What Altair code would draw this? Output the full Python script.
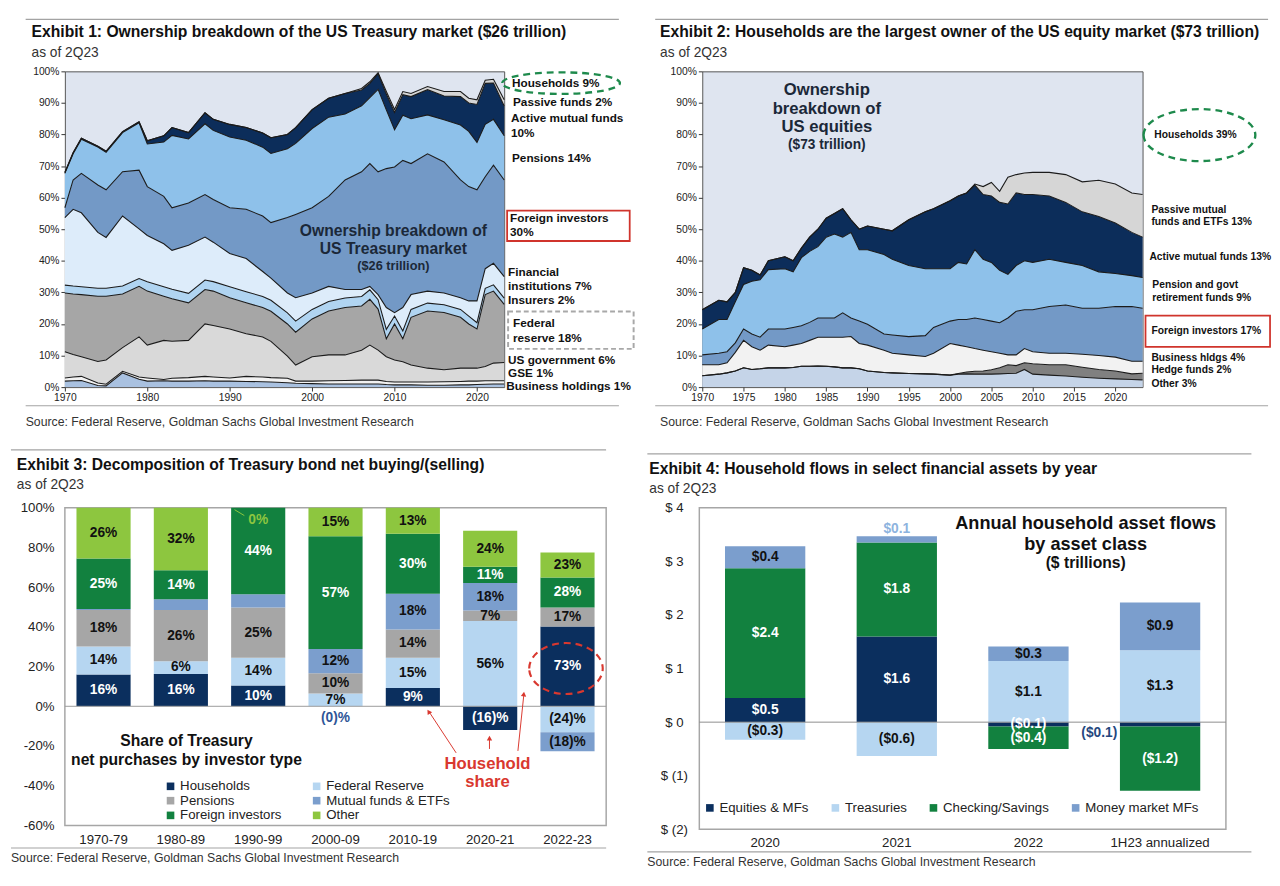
import altair as alt
import pandas as pd

FONT = "Liberation Sans"
INK = "#111111"
SUB = "#333333"
RULE = "#a3a3a3"
ONE = pd.DataFrame({"k": [0]})

# ---------------- Exhibit 1: upper edge of each band (% of Treasuries outstanding) ----------------
E1_YEARS = [1970, 1971, 1972, 1974, 1975, 1977, 1979, 1980, 1982, 1983, 1985, 1987, 1988,
            1990, 1992, 1994, 1995, 1997, 1998, 2000, 2002, 2004, 2006, 2007, 2008, 2009,
            2010, 2011, 2012, 2014, 2016, 2018, 2019, 2020, 2021, 2022, 2023.3]
e1_business = [1.9, 2.0, 2.1, 0.5, 0.4, 4.5, 2.5, 1.9, 2.0, 1.9, 1.9, 2.0, 1.9, 1.9, 1.8, 1.7, 1.6, 1.4, 1.2,
               1.1, 1.0, 1.0, 1.0, 1.0, 1.0, 0.8, 0.7, 0.7, 0.7, 0.6, 0.6, 0.7, 0.7, 0.8, 0.9, 1.0, 1.0]
e1_gse = [2.9, 3.2, 3.4, 1.3, 0.9, 5.0, 3.2, 2.9, 2.4, 2.8, 3.0, 3.4, 3.2, 2.9, 3.4, 3.2, 3.0, 2.8, 1.9,
          1.9, 2.0, 2.1, 2.2, 2.2, 2.2, 1.8, 1.6, 1.6, 1.6, 1.6, 1.7, 1.8, 1.9, 1.9, 2.0, 2.0, 2.0]
e1_usgov = [11.2, 10.3, 9.6, 8.1, 8.6, 12.5, 15.9, 13.3, 14.8, 14.5, 14.8, 20.0, 19.5, 18.4, 16.9, 15.9, 14.5,
            9.8, 7.0, 9.6, 10.2, 10.2, 11.7, 13.3, 11.7, 9.6, 8.6, 8.0, 7.0, 6.0, 5.5, 6.0, 6.0, 6.0, 6.5, 7.6, 7.8]
e1_fed = [29.8, 29.5, 29.3, 28.8, 28.8, 29.5, 31.9, 30.4, 28.8, 28.0, 26.7, 30.9, 30.4, 28.3, 26.7, 25.2, 24.0,
          20.0, 17.4, 21.6, 24.1, 25.2, 25.7, 27.8, 24.7, 15.3, 20.0, 15.3, 22.1, 24.1, 23.6, 22.1, 20.0, 18.4,
          29.3, 30.4, 26.2]
e1_insurers = [32.3, 32.0, 31.8, 31.3, 31.3, 32.0, 34.4, 33.4, 31.8, 31.0, 29.7, 33.9, 33.4, 31.8, 30.2, 28.7,
               27.5, 23.5, 20.9, 24.6, 27.1, 28.2, 28.7, 30.8, 27.7, 18.3, 22.5, 17.8, 24.6, 26.6, 26.1, 24.6,
               22.5, 20.4, 31.3, 32.4, 28.2]
e1_fininst = [53.7, 56.3, 55.2, 49.0, 47.4, 54.2, 50.1, 48.0, 45.4, 43.3, 44.9, 47.5, 45.9, 42.3, 40.7, 36.6,
              34.5, 29.8, 28.3, 29.8, 31.9, 30.9, 30.9, 31.9, 29.3, 25.2, 23.6, 25.2, 29.3, 30.4, 29.8, 28.3,
              27.3, 27.3, 37.5, 39.2, 35.0]
e1_foreign = [56.8, 65.6, 67.7, 64.0, 62.5, 68.2, 68.7, 63.5, 60.4, 56.8, 58.3, 61.0, 59.4, 56.8, 56.3, 54.2,
              52.1, 53.7, 54.7, 56.8, 60.4, 65.6, 68.2, 70.8, 68.2, 69.2, 69.7, 71.8, 70.8, 73.9, 71.3, 65.6,
              63.5, 62.5, 66.6, 70.3, 65.6]
e1_pensions = [67.7, 73.9, 78.5, 76.0, 74.4, 80.6, 83.7, 77.0, 77.6, 79.7, 78.6, 83.4, 81.3, 79.2, 78.2, 76.0,
               74.0, 75.5, 77.2, 81.9, 85.5, 86.5, 89.1, 91.7, 94.3, 87.8, 81.5, 86.1, 85.0, 86.2, 84.7, 83.0,
               81.0, 77.5, 83.2, 84.8, 79.6]
e1_active = [68.0, 74.2, 78.8, 76.3, 74.7, 80.9, 84.0, 78.0, 79.6, 82.2, 80.6, 86.9, 84.8, 83.2, 82.2, 80.5,
             79.0, 80.0, 82.2, 87.9, 91.5, 93.0, 94.1, 96.2, 99.3, 92.8, 87.0, 92.6, 92.0, 94.2, 92.2, 92.0,
             90.0, 89.5, 96.2, 96.3, 89.0]
e1_passive = [68.0, 74.2, 78.8, 76.3, 74.7, 80.9, 84.0, 78.0, 79.6, 82.2, 80.6, 86.9, 84.8, 83.2, 82.2, 80.5,
              79.0, 80.0, 82.2, 87.9, 91.5, 93.0, 94.6, 96.7, 99.6, 93.6, 87.9, 93.6, 93.0, 95.2, 93.6, 93.6,
              91.5, 91.0, 97.2, 97.5, 91.0]
E1_BANDS = ["Business holdings", "GSE", "US government", "Federal reserve", "Insurers",
            "Financial institutions", "Foreign investors", "Pensions", "Active mutual funds", "Passive funds"]
E1_COLORS = ["#a9c1e0", "#f2f2f2", "#d9d9d9", "#a6a6a6", "#b0d4f1", "#ddecfa", "#7399c6", "#8ec1ea",
             "#0c2d5a", "#d6d6d6"]
E1_TOPS = [e1_business, e1_gse, e1_usgov, e1_fed, e1_insurers, e1_fininst, e1_foreign, e1_pensions,
           e1_active, e1_passive]

# ---------------- Exhibit 2: upper edge of each band (% of US equities) ----------------
E2_YEARS = [1970, 1972, 1973, 1974, 1975, 1976, 1977, 1978, 1980, 1981, 1982, 1983, 1984, 1985, 1986, 1987,
            1988, 1989, 1990, 1992, 1993, 1995, 1997, 1998, 2000, 2001, 2002, 2003, 2004, 2005, 2006, 2007,
            2008, 2009, 2010, 2012, 2014, 2016, 2018, 2020, 2022, 2023.3]
e2_other = [3.6, 4.1, 4.5, 5.1, 6.1, 5.6, 5.8, 6.1, 6.1, 6.2, 6.6, 6.6, 6.7, 6.6, 6.4, 6.1, 6.1, 5.8, 5.1, 4.6,
            4.5, 4.3, 4.2, 4.1, 3.8, 4.1, 4.2, 4.1, 4.1, 4.1, 4.2, 4.3, 4.4, 5.6, 4.1, 3.8, 3.5, 3.1, 2.8,
            2.6, 2.4, 2.3]
e2_hedge = [3.6, 4.1, 4.5, 5.1, 6.1, 5.6, 5.8, 6.1, 6.1, 6.2, 6.6, 6.6, 6.7, 6.6, 6.4, 6.1, 6.1, 5.8, 5.1, 4.6,
            4.5, 4.3, 4.2, 4.1, 3.8, 4.3, 4.8, 5.0, 5.1, 5.5, 6.1, 7.1, 6.8, 7.7, 7.4, 7.1, 7.1, 6.3, 5.6,
            5.1, 4.2, 4.4]
e2_business = [7.1, 7.1, 7.7, 11.0, 14.8, 12.8, 11.7, 13.3, 12.8, 13.3, 13.8, 14.8, 15.8, 15.8, 15.8, 15.8,
               16.0, 13.8, 13.3, 11.7, 10.7, 10.2, 9.7, 10.7, 13.8, 13.3, 12.8, 12.2, 11.7, 11.2, 10.7, 10.2,
               10.2, 12.2, 11.2, 10.7, 10.7, 10.4, 10.0, 9.5, 8.2, 8.2]
e2_foreign = [10.2, 10.7, 11.2, 14.0, 18.4, 16.8, 15.8, 18.4, 18.4, 18.9, 19.4, 20.5, 21.9, 21.9, 21.9, 23.5,
              21.9, 20.9, 19.9, 16.8, 16.5, 16.0, 16.3, 18.9, 20.9, 21.4, 21.4, 21.9, 21.4, 20.9, 20.4, 21.9,
              24.0, 24.5, 24.5, 25.5, 26.0, 25.0, 25.0, 25.5, 25.5, 25.0]
e2_pension = [18.4, 21.4, 21.4, 27.0, 32.5, 33.5, 34.0, 37.2, 37.5, 36.5, 41.0, 43.0, 44.5, 47.5, 48.5, 47.5,
              49.0, 43.5, 43.5, 42.0, 40.5, 38.5, 37.5, 37.5, 37.5, 39.5, 39.0, 43.5, 40.5, 39.5, 37.0, 35.7,
              38.5, 40.0, 39.5, 40.5, 39.5, 38.5, 36.5, 36.0, 35.3, 34.7]
e2_active = [24.5, 27.5, 27.0, 30.0, 37.8, 37.0, 35.5, 40.0, 41.3, 40.0, 44.0, 47.5, 50.0, 53.5, 55.0, 56.5,
             53.0, 50.0, 51.0, 50.0, 49.5, 53.0, 55.5, 56.5, 59.0, 60.5, 61.5, 64.0, 61.0, 60.5, 58.5, 58.0,
             61.5, 61.0, 61.0, 60.5, 58.5, 55.5, 54.0, 52.0, 49.0, 47.5]
e2_passive = [24.5, 27.5, 27.0, 30.0, 37.8, 37.0, 35.5, 40.0, 41.3, 40.0, 44.0, 47.5, 50.0, 53.5, 55.0, 56.5,
              53.0, 50.0, 51.0, 50.0, 49.5, 53.0, 55.5, 56.5, 59.0, 60.5, 61.5, 64.3, 63.5, 64.8, 62.0, 66.5,
              67.3, 67.8, 68.0, 68.0, 67.3, 65.0, 65.5, 64.3, 61.5, 61.0]
E2_BANDS = ["Other", "Hedge funds", "Business hldgs", "Foreign investors", "Pension and govt retirement funds",
            "Active mutual funds", "Passive mutual funds and ETFs"]
E2_COLORS = ["#c5d4e8", "#808080", "#f2f2f2", "#7399c6", "#8ec1ea", "#0c2d5a", "#d6d6d6"]
E2_TOPS = [e2_other, e2_hedge, e2_business, e2_foreign, e2_pension, e2_active, e2_passive]

# ---------------- Exhibit 3: bar heights (axis %) and printed shares ----------------
E3_PERIODS = ["1970-79", "1980-89", "1990-99", "2000-09", "2010-19", "2020-21", "2022-23"]
E3_SERIES = ["Households", "Federal Reserve", "Pensions", "Mutual funds & ETFs", "Foreign investors", "Other"]
E3_COLORS = ["#0b2f5e", "#b6d6f1", "#a6a6a6", "#7b9ecd", "#12813f", "#8dc63f"]
E3_TXT = ["white", INK, INK, INK, "white", INK]
E3_LEGEND_ORDER = [0, 2, 4, 1, 3, 5]   # fills the two legend columns row by row
e3_households = [16.0, 16.3, 10.5, 0.0, 9.2, -11.9, 40.2]
e3_fed = [14.1, 6.4, 14.0, 6.5, 15.3, 43.0, -13.1]
e3_pensions = [18.4, 25.8, 25.2, 10.2, 14.2, 5.2, 9.5]
e3_mutual = [0.5, 5.4, 6.7, 12.2, 18.0, 13.9, -9.5]
e3_foreign = [25.4, 14.6, 43.6, 56.7, 30.2, 8.2, 15.2]
e3_other = [25.6, 31.5, 0.0, 14.4, 13.1, 18.1, 12.6]
e3_lab_households = ["16%", "16%", "10%", "(0)%", "9%", "(16)%", "73%"]
e3_lab_fed = ["14%", "6%", "14%", "7%", "15%", "56%", "(24)%"]
e3_lab_pensions = ["18%", "26%", "25%", "10%", "14%", "7%", "17%"]
e3_lab_mutual = ["", "", "", "12%", "18%", "18%", "(18)%"]
e3_lab_foreign = ["25%", "14%", "44%", "57%", "30%", "11%", "28%"]
e3_lab_other = ["26%", "32%", "0%", "15%", "13%", "24%", "23%"]
E3_VALUES = [e3_households, e3_fed, e3_pensions, e3_mutual, e3_foreign, e3_other]
E3_LABELS = [e3_lab_households, e3_lab_fed, e3_lab_pensions, e3_lab_mutual, e3_lab_foreign, e3_lab_other]

# ---------------- Exhibit 4: household flows ($ trillions) ----------------
E4_PERIODS = ["2020", "2021", "2022", "1H23 annualized"]
E4_SERIES = ["Equities & MFs", "Treasuries", "Checking/Savings", "Money market MFs"]
E4_COLORS = ["#0b2f5e", "#b6d6f1", "#12813f", "#7b9ecd"]
E4_TXT = ["white", INK, "white", INK]
e4_equities = [0.45, 1.60, -0.08, -0.08]
e4_treasuries = [-0.33, -0.63, 1.14, 1.34]
e4_checking = [2.42, 1.75, -0.42, -1.20]
e4_mmf = [0.41, 0.12, 0.27, 0.89]
e4_lab_equities = ["$0.5", "$1.6", "($0.1)", "($0.1)"]
e4_lab_treasuries = ["($0.3)", "($0.6)", "$1.1", "$1.3"]
e4_lab_checking = ["$2.4", "$1.8", "($0.4)", "($1.2)"]
e4_lab_mmf = ["$0.4", "$0.1", "$0.3", "$0.9"]
E4_VALUES = [e4_equities, e4_treasuries, e4_checking, e4_mmf]
E4_LABELS = [e4_lab_equities, e4_lab_treasuries, e4_lab_checking, e4_lab_mmf]


# ---------------- helpers ----------------
def T(x, y, s, size=12, weight="normal", color=INK, align="left", baseline="middle"):
    return alt.Chart(ONE).mark_text(text=s, fontSize=size, fontWeight=weight, color=color, align=align,
                                    baseline=baseline, font=FONT).encode(x=alt.value(x), y=alt.value(y))


def R(x1, y1, x2, y2, color=RULE, width=1.2, dash=None):
    kw = dict(color=color, strokeWidth=width)
    if dash:
        kw["strokeDash"] = dash
    return alt.Chart(ONE).mark_rule(**kw).encode(x=alt.value(x1), x2=alt.value(x2),
                                                 y=alt.value(y1), y2=alt.value(y2))


def BOX(x1, y1, x2, y2, color, width=2.0, dash=None):
    kw = dict(fillOpacity=0, stroke=color, strokeWidth=width)
    if dash:
        kw["strokeDash"] = dash
    return alt.Chart(ONE).mark_rect(**kw).encode(x=alt.value(x1), x2=alt.value(x2),
                                                 y=alt.value(y1), y2=alt.value(y2))


def ELL(cx, cy, w, h, color, width=2.4, dash=(7, 5)):
    r = h / w
    k = 0.5523
    p = (f"M-1,0C-1,{-k*r:.4f},{-k:.4f},{-r:.4f},0,{-r:.4f}"
         f"C{k:.4f},{-r:.4f},1,{-k*r:.4f},1,0"
         f"C1,{k*r:.4f},{k:.4f},{r:.4f},0,{r:.4f}"
         f"C{-k:.4f},{r:.4f},-1,{k*r:.4f},-1,0Z")
    return alt.Chart(ONE).mark_point(shape=p, size=w * w, filled=False, color=color, stroke=color,
                                     strokeWidth=width, strokeDash=list(dash), opacity=1).encode(
        x=alt.value(cx), y=alt.value(cy))


def HEAD(x, y, angle, color):
    return alt.Chart(ONE).mark_point(shape="triangle-up", size=30, filled=True, color=color, angle=angle,
                                     opacity=1).encode(x=alt.value(x), y=alt.value(y))


def area_layers(years, names, colors, tops, xvals, field):
    rows = []
    lower = [0.0] * len(years)
    for name, top in zip(names, tops):
        for yr, lo, hi in zip(years, lower, top):
            rows.append({"year": yr, field: name, "lo": lo, "hi": hi})
        lower = top
    df = pd.DataFrame(rows)
    xax = alt.Axis(values=xvals, format="d", title=None, grid=False, domain=False, ticks=True, tickSize=4,
                   tickColor="#333", labelPadding=2, labelFontSize=10.5, labelColor="#222", labelFlush=False,
                   labelFont=FONT)
    yax = alt.Axis(values=list(range(0, 101, 10)), labelExpr="datum.value + '%'", title=None, grid=False,
                   domain=False, ticks=True, tickSize=4, tickColor="#333", labelPadding=2, labelFontSize=10.5,
                   labelColor="#222", labelFont=FONT)
    xs = alt.Scale(domain=[1970, years[-1]], nice=False, zero=False)
    ys = alt.Scale(domain=[0, 100], nice=False)
    area = alt.Chart(df).mark_area(opacity=1).encode(
        x=alt.X("year:Q", scale=xs, axis=xax),
        y=alt.Y("lo:Q", scale=ys, axis=yax, stack=None),
        y2="hi:Q",
        color=alt.Color(f"{field}:N", scale=alt.Scale(domain=names, range=colors), legend=None))
    line = alt.Chart(df).mark_line(color="#1b1b1b", strokeWidth=1.1).encode(
        x=alt.X("year:Q", scale=xs, axis=xax),
        y=alt.Y("hi:Q", scale=ys, axis=yax, stack=None),
        detail=f"{field}:N")
    return [area, line]


def stacked_frame(periods, series, values, labels, colors_txt, field):
    rows = []
    pos = {p: 0.0 for p in periods}
    neg = {p: 0.0 for p in periods}
    for si, (name, vals, labs) in enumerate(zip(series, values, labels)):
        for p, v, lab in zip(periods, vals, labs):
            if v >= 0:
                start = pos[p]
                pos[p] += v
            else:
                start = neg[p]
                neg[p] += v
            rows.append({"period": p, field: name, "value": v, "label": lab, "ord": si,
                         "ypos": start + v / 2, "tcolor": colors_txt[si]})
    return pd.DataFrame(rows)


SOURCE = "Source: Federal Reserve, Goldman Sachs Global Investment Research"

# ---------------- Panel 1 ----------------
W1, H1 = 448, 322
p1_layers = area_layers(E1_YEARS, E1_BANDS, E1_COLORS, E1_TOPS, list(range(1970, 2021, 10)), "band1")
p1_ann = [
    R(-40, -53, 565, -53), R(565, -53, 592, -53, color="white"),
    T(-34, -40, "Exhibit 1: Ownership breakdown of the US Treasury market ($26 trillion)", 16, "bold"),
    T(-34, -19, "as of 2Q23", 14, color=SUB),
    R(-40, 341, 565, 341), T(-40, 358, SOURCE, 12.5, color=SUB),
    T(335, 163, "Ownership breakdown of", 16, "bold", "#1b2838", "center"),
    T(335, 181, "US Treasury market", 16, "bold", "#1b2838", "center"),
    T(335, 199, "($26 trillion)", 13, "bold", "#1b2838", "center"),
    T(456, 12, "Households 9%", 12, "bold"),
    T(457, 31, "Passive funds 2%", 12, "bold"),
    T(455, 48, "Active mutual funds", 12, "bold"),
    T(455, 63, "10%", 12, "bold"),
    T(456, 88, "Pensions 14%", 12, "bold"),
    T(454, 150, "Foreign investors", 12, "bold"),
    T(454, 164, "30%", 12, "bold"),
    T(452, 205, "Financial", 12, "bold"),
    T(452, 219, "institutions 7%", 12, "bold"),
    T(452, 233, "Insurers 2%", 12, "bold"),
    T(457, 257, "Federal", 12, "bold"),
    T(457, 272, "reserve 18%", 12, "bold"),
    T(452, 294, "US government 6%", 12, "bold"),
    T(452, 308, "GSE 1%", 12, "bold"),
    T(450, 321, "Business holdings 1%", 12, "bold"),
    ELL(506, 12, 120, 22, "#1e8a4c"),
    BOX(451, 142, 576, 173, "#d0342c", 1.8),
    BOX(452, 245, 580, 283, "#a8a8a8", 2.0, [5, 3]),
]
p1 = alt.layer(*p1_layers, *p1_ann).properties(
    width=W1, height=H1, view=alt.ViewBackground(fill="#dfe5f0", stroke="#555555", strokeWidth=1))

# ---------------- Panel 2 ----------------
W2, H2 = 449, 322
p2_layers = area_layers(E2_YEARS, E2_BANDS, E2_COLORS, E2_TOPS, list(range(1970, 2021, 5)), "band2")
p2_ann = [
    R(-48, -53, 577, -53),
    T(-43, -40, "Exhibit 2: Households are the largest owner of the US equity market ($73 trillion)", 16,
      "bold"),
    T(-43, -19, "as of 2Q23", 14, color=SUB),
    R(-48, 341, 577, 341), T(-43, 358, SOURCE, 12.5, color=SUB),
    T(127, 19, "Ownership", 17, "bold", "#1b2838", "center"),
    T(127, 38, "breakdown of", 17, "bold", "#1b2838", "center"),
    T(127, 57, "US equities", 17, "bold", "#1b2838", "center"),
    T(127, 75, "($73 trillion)", 14, "bold", "#1b2838", "center"),
    T(461, 65, "Households 39%", 10.5, "bold"),
    T(458, 141, "Passive mutual", 10.5, "bold"),
    T(458, 154, "funds and ETFs 13%", 10.5, "bold"),
    T(456, 189, "Active mutual funds 13%", 10.5, "bold"),
    T(459, 218, "Pension and govt", 10.5, "bold"),
    T(459, 231, "retirement funds 9%", 10.5, "bold"),
    T(458, 265, "Foreign investors 17%", 10.5, "bold"),
    T(458, 292, "Business hldgs 4%", 10.5, "bold"),
    T(458, 305, "Hedge funds 2%", 10.5, "bold"),
    T(458, 319, "Other 3%", 10.5, "bold"),
    ELL(507, 65, 114, 53, "#1e8a4c"),
    BOX(452, 249, 579, 281, "#d0342c", 1.8),
]
p2 = alt.layer(*p2_layers, *p2_ann).properties(
    width=W2, height=H2, view=alt.ViewBackground(fill="#dfe5f0", stroke="#555555", strokeWidth=1))

# ---------------- Panel 3 ----------------
W3, H3 = 552, 324
df3 = stacked_frame(E3_PERIODS, E3_SERIES, E3_VALUES, E3_LABELS, E3_TXT, "series3")
df3.loc[(df3.period == "2000-09") & (df3.series3 == "Households"), ["ypos", "tcolor"]] = [-6.0, "#2e5597"]
df3.loc[(df3.period == "1990-99") & (df3.series3 == "Other"), ["ypos", "tcolor"]] = [94.0, "#8dc63f"]
df3t = df3[df3.label != ""]
legend3_domain = [E3_SERIES[i] for i in E3_LEGEND_ORDER]
legend3_range = [E3_COLORS[i] for i in E3_LEGEND_ORDER]
x3s = alt.Scale(domain=E3_PERIODS, paddingInner=0.3, paddingOuter=0.15)
y3s = alt.Scale(domain=[-60, 100], nice=False)
x3ax = alt.Axis(title=None, labelAngle=0, ticks=False, tickSize=0, domain=False, labelPadding=7,
                labelFontSize=13.5, labelColor="#222", labelFont=FONT)
y3ax = alt.Axis(values=list(range(-60, 101, 20)), labelExpr="datum.value + '%'", title=None, grid=False,
                domain=False, ticks=False, tickSize=0, labelPadding=11, labelFontSize=13.5, labelColor="#222",
                labelFont=FONT)
bars3 = alt.Chart(df3).mark_bar().encode(
    x=alt.X("period:N", sort=E3_PERIODS, scale=x3s, axis=x3ax),
    y=alt.Y("value:Q", stack="zero", scale=y3s, axis=y3ax),
    color=alt.Color("series3:N", scale=alt.Scale(domain=legend3_domain, range=legend3_range),
                    legend=alt.Legend(orient="none", legendX=101, legendY=277, columns=2, title=None,
                                      symbolType="square", symbolSize=60, symbolStrokeWidth=0,
                                      labelFontSize=13.5, labelColor="#222", labelFont=FONT,
                                      columnPadding=28, rowPadding=0, padding=0, labelOffset=3)),
    order=alt.Order("ord:Q", sort="ascending"))
zero3 = alt.Chart(ONE).mark_rule(color="#9a9a9a", strokeWidth=1).encode(y=alt.datum(0))
text3 = alt.Chart(df3t).mark_text(fontSize=14, fontWeight="bold", font=FONT).encode(
    x=alt.X("period:N", sort=E3_PERIODS, scale=x3s, axis=x3ax),
    y=alt.Y("ypos:Q", scale=y3s, axis=y3ax, stack=None),
    text="label:N",
    color=alt.Color("tcolor:N", scale=None))
RED = "#d9382f"
p3_ann = [
    R(-55, -59, 552, -59), R(552, -59, 584, -59, color="white"),
    T(-49, -43, "Exhibit 3: Decomposition of Treasury bond net buying/(selling)", 16, "bold"),
    T(-49, -23, "as of 2Q23", 14, color=SUB),
    R(-55, 347, 552, 347), T(-55, 357, SOURCE, 12.5, color=SUB),
    R(183, 8, 173, 2, color="#8dc63f", width=1),
    T(124, 238, "Share of Treasury", 16, "bold", INK, "center"),
    T(124, 257, "net purchases by investor type", 16, "bold", INK, "center"),
    T(431, 261, "Household", 17, "bold", RED, "center"),
    T(431, 280, "share", 17, "bold", RED, "center"),
    R(399, 250, 372, 209, color=RED, width=1),
    HEAD(371, 208, 327, RED),
    R(433, 246, 433, 236, color=RED, width=1),
    HEAD(433, 235, 0, RED),
    R(462, 248, 468, 191, color=RED, width=1),
    HEAD(468, 190, 6, RED),
    ELL(511, 164, 75, 52, RED, 2.2, (7, 5)),
]
p3 = alt.layer(bars3, zero3, text3, *p3_ann).properties(
    width=W3, height=H3, view=alt.ViewBackground(fill="white", stroke="#a6a6a6", strokeWidth=1.5))

# ---------------- Panel 4 ----------------
W4, H4 = 537, 328
df4 = stacked_frame(E4_PERIODS, E4_SERIES, E4_VALUES, E4_LABELS, E4_TXT, "series4")
df4.loc[(df4.period == "2021") & (df4.series4 == "Money market MFs"), ["ypos", "tcolor"]] = [3.6, "#8db3de"]
side_mask = (df4.period == "1H23 annualized") & (df4.series4 == "Equities & MFs")
df4side = df4[side_mask].copy()
df4side["ypos"] = -0.2
df4t = df4[~side_mask]
x4s = alt.Scale(domain=E4_PERIODS, paddingInner=0.39, paddingOuter=0.195)
y4s = alt.Scale(domain=[-2, 4], nice=False)
x4ax = alt.Axis(title=None, labelAngle=0, ticks=False, tickSize=0, domain=False, labelPadding=7,
                labelFontSize=13.5, labelColor="#222", labelFont=FONT)
y4ax = alt.Axis(values=[-2, -1, 0, 1, 2, 3, 4],
                labelExpr="datum.value < 0 ? '$ (' + abs(datum.value) + ')' : '$ ' + datum.value",
                title=None, grid=False, domain=False, ticks=False, tickSize=0, labelPadding=26,
                labelAlign="center", labelFontSize=13.5, labelColor="#222", labelFont=FONT)
bars4 = alt.Chart(df4).mark_bar().encode(
    x=alt.X("period:N", sort=E4_PERIODS, scale=x4s, axis=x4ax),
    y=alt.Y("value:Q", stack="zero", scale=y4s, axis=y4ax),
    color=alt.Color("series4:N", scale=alt.Scale(domain=E4_SERIES, range=E4_COLORS),
                    legend=alt.Legend(orient="none", legendX=4, legendY=299, direction="horizontal",
                                      columns=4, title=None, symbolType="square", symbolSize=60,
                                      symbolStrokeWidth=0, labelFontSize=13.5, labelColor="#222",
                                      labelFont=FONT, columnPadding=20, padding=0, labelOffset=3)),
    order=alt.Order("ord:Q", sort="ascending"))
zero4 = alt.Chart(ONE).mark_rule(color="#8c8c8c", strokeWidth=1).encode(y=alt.datum(0))
text4 = alt.Chart(df4t).mark_text(fontSize=14, fontWeight="bold", font=FONT).encode(
    x=alt.X("period:N", sort=E4_PERIODS, scale=x4s, axis=x4ax),
    y=alt.Y("ypos:Q", scale=y4s, axis=y4ax, stack=None),
    text="label:N",
    color=alt.Color("tcolor:N", scale=None))
text4side = alt.Chart(df4side).mark_text(fontSize=14, fontWeight="bold", font=FONT, dx=-62,
                                         color="#24477e").encode(
    x=alt.X("period:N", sort=E4_PERIODS, scale=x4s, axis=x4ax),
    y=alt.Y("ypos:Q", scale=y4s, axis=y4ax, stack=None),
    text="label:N")
p4_ann = [
    R(-53, -55, 563, -55),
    T(-51, -39, "Exhibit 4: Household flows in select financial assets by year", 16, "bold"),
    T(-51, -19, "as of 2Q23", 14, color=SUB),
    R(-53, 351, 563, 351), T(-53, 361, SOURCE, 12.5, color=SUB),
    T(394, 16, "Annual household asset flows", 18.5, "bold", INK, "center"),
    T(394, 37, "by asset class", 18.5, "bold", INK, "center"),
    T(394, 56, "($ trillions)", 16, "bold", INK, "center"),
]
p4 = alt.layer(bars4, zero4, text4, text4side, *p4_ann).properties(
    width=W4, height=H4, view=alt.ViewBackground(fill="white", stroke="#a6a6a6", strokeWidth=1.5))

row1 = alt.hconcat(p1, p2, spacing=6).resolve_scale(color="independent")
row2 = alt.hconcat(p3, p4, spacing=6).resolve_scale(color="independent")
chart = alt.vconcat(row1, row2, spacing=19).resolve_scale(color="independent").properties(
    padding={"left": 1, "top": 1, "right": 0, "bottom": 0}
).configure(font=FONT).configure_view(stroke=None)

chart.save("out.html", embed_options={"renderer": "svg", "actions": False})
